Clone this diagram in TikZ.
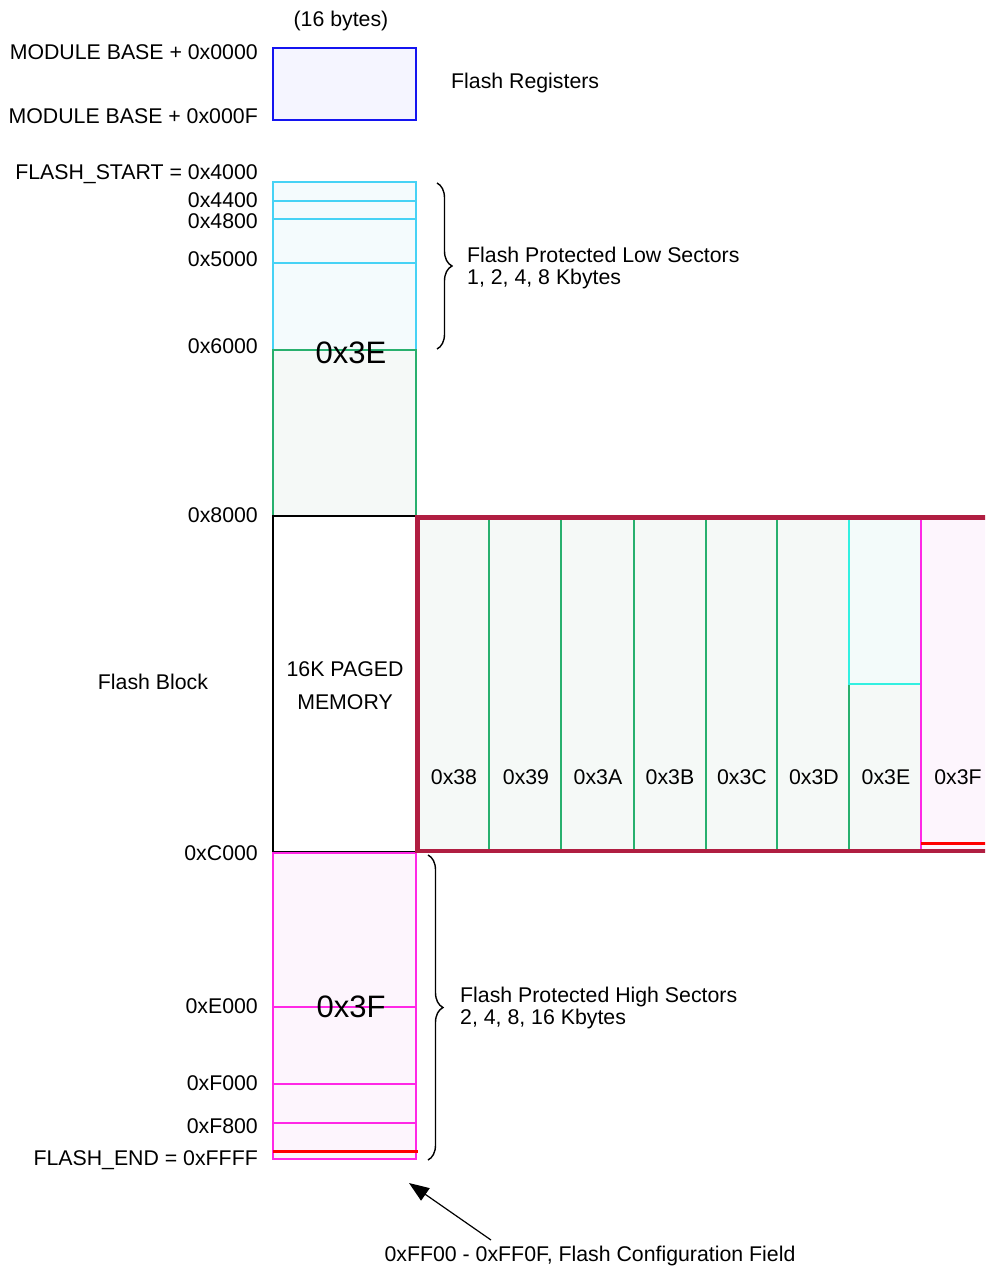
\documentclass[tikz,border=0pt]{standalone}
\usepackage{fontspec}
\setmainfont{Liberation Sans}
\usetikzlibrary{arrows.meta,decorations.pathreplacing}
\definecolor{regblue}{RGB}{20,20,240}
\definecolor{regfill}{RGB}{245,245,255}
\definecolor{lowcyan}{RGB}{70,210,245}
\definecolor{lowfill}{RGB}{244,251,253}
\definecolor{pagegreen}{RGB}{40,176,110}
\definecolor{pagefill}{RGB}{245,249,247}
\definecolor{highpink}{RGB}{255,40,230}
\definecolor{highfill}{RGB}{253,245,253}
\definecolor{windowred}{RGB}{176,30,65}
\definecolor{turq}{RGB}{50,240,225}
\definecolor{turqfill}{RGB}{243,251,250}

\begin{document}
\begin{tikzpicture}
    [x=1pt, y=-1pt,
     every node/.style={font=\fontsize{21.3}{25}\selectfont, inner sep=0pt, yshift=-2pt},
     hex label/.style={anchor=east},
     side label/.style={anchor=west, align=left, font=\fontsize{21.3}{21.5}\selectfont},
     page label/.style={font=\fontsize{31}{36}\selectfont},
     sector line/.style={line width=1.5pt},
     brace line/.style={decorate, decoration={brace, amplitude=15pt}, line width=1.4pt}]
    \clip (0,0) rectangle (985,1268);
    \fill[white] (0,0) rectangle (985,1268);

    % registers
    \draw[sector line, regblue, fill=regfill] (273,48) rectangle (416,120);
    \node (bytes) at (341,19) {(16 bytes)};
    \node (regs) [anchor=west] at (451,81) {Flash Registers};
    \node (modbase0) [hex label] at (258,50) {MODULE BASE + 0x0000};
    \node (modbaseF) [hex label] at (258,114) {MODULE BASE + 0x000F};

    % flash block column
    \draw[sector line, lowcyan, fill=lowfill] (273,182) rectangle (416,350);
    \foreach \y in {201,219,263}
      \draw[sector line, lowcyan] (273,\y) -- (416,\y);
    \draw[sector line, pagegreen, fill=pagefill] (273,350) rectangle (416,516);
    \draw[sector line, black, fill=white] (273,516) rectangle (416,852);
    \draw[sector line, highpink, fill=highfill] (273,853) rectangle (416,1159);
    \foreach \y in {1007,1084,1123}
      \draw[sector line, highpink] (273,\y) -- (416,\y);
    \draw[red, line width=3pt] (273,1151) -- (418,1151);

    \node (low3E) [page label] at (351,351) {0x3E};
    \node (high3F) [page label] at (351,1005) {0x3F};
    \node (paged) [align=center, font=\fontsize{21.3}{33}\selectfont] at (345,684) {16K PAGED\\MEMORY};
    \node (block) at (153,680) {Flash Block};

    % addresses
    \foreach \y/\txt [count=\i] in {172/FLASH\_START = 0x4000, 198/0x4400, 219/0x4800,
        257/0x5000, 344/0x6000, 513/0x8000, 851/0xC000, 1004/0xE000, 1081/0xF000,
        1124/0xF800, 1158/FLASH\_END = 0xFFFF}
      \node (addr\i) [hex label] at (258,\y) {\txt};

    % paged window
    \fill[pagefill] (418,518) rectangle (921,851);
    \fill[turqfill] (849,518) rectangle (921,684);
    \fill[highfill] (921,518) rectangle (995,851);
    \foreach \x in {489,561,634,706,777}
      \draw[sector line, pagegreen] (\x,518) -- (\x,851);
    \draw[sector line, pagegreen] (849,684) -- (849,851);
    \draw[sector line, turq] (849,518) -- (849,684) -- (921,684);
    \draw[sector line, highpink] (921,518) -- (921,851);
    \draw[red, line width=3pt] (921,843) -- (995,843);
    \draw[windowred, line width=4.5pt] (417.5,517.5) rectangle (1000,851);
    \foreach \lbl [count=\i] in {38,39,3A,3B,3C,3D,3E,3F}
      \node (page\lbl) at (382+72*\i,775) {0x\lbl};

    % braces
    \draw[brace line] (437,183) -- (437,349);
    \node (lowsec) [side label] at (467,266) {Flash Protected Low Sectors\\1, 2, 4, 8 Kbytes};
    \draw[brace line] (428,855) -- (428,1160);
    \node (highsec) [side label] at (460,1006) {Flash Protected High Sectors\\2, 4, 8, 16 Kbytes};

    % configuration field
    \node (cfg) at (590,1254) {0xFF00 - 0xFF0F, Flash Configuration Field};
    \coordinate (cfgtail) at (491,1238);
    \coordinate (cfgtip) at (409,1181);
    \draw[-{Triangle[length=20pt,width=15pt]}, line width=1.2pt] (cfgtail) -- (cfgtip);
  \end{tikzpicture}
\end{document}
